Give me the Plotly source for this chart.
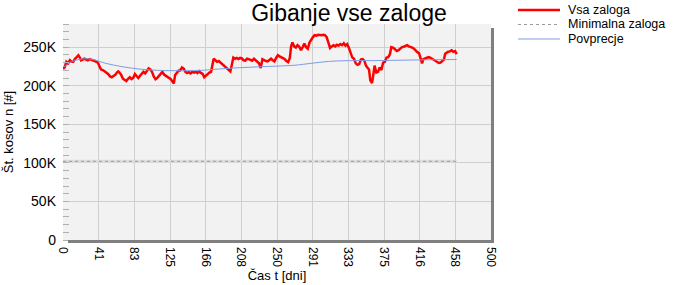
import plotly.graph_objects as go

# ---- data (values in thousands of pieces) ----
days = [0, 2, 4, 6, 8, 10, 12, 14, 16, 18, 20, 21, 23, 25, 27, 29, 31, 33, 35, 37, 39, 41, 43, 44.5, 47, 49,
        51, 53, 55, 57, 59, 61, 63, 64.5, 66, 68, 70, 72, 74, 76, 78, 80, 82, 84, 86, 88, 90, 92, 94, 96, 98,
        100, 102, 104, 106, 108, 110, 112, 114, 116, 118, 120, 122, 124, 126, 128, 129.5, 131, 133, 135, 137,
        139, 141, 143, 145, 147, 149, 151, 153, 155, 157, 159, 161, 163, 165, 167, 169, 171, 173, 175, 176,
        178, 180, 182, 184, 186, 188, 190, 192, 194, 195.5, 197, 199, 201, 203, 205, 207, 209, 211, 213, 215,
        217, 219, 221, 223, 225, 227, 229, 231, 233, 235, 237, 239, 241, 243, 245, 247, 249, 251, 253, 255,
        257, 259, 261, 263, 265, 266.5, 268, 270, 272, 274, 276, 278, 280, 282, 284, 286, 288, 290, 292, 294,
        296, 298, 300, 302, 304, 306, 308, 310, 312, 314, 316, 318, 320, 322, 324, 326, 328, 330, 332, 334,
        336, 338, 340, 342, 344, 346, 348, 350, 352, 354, 356, 357.5, 359, 361, 362.5, 364, 366, 368, 370,
        372, 374, 376, 378, 380, 382, 383.5, 386, 388, 390, 392, 394, 396, 398, 400, 402, 404, 406, 408, 410,
        412, 414, 416, 418, 419.5, 421, 423, 425, 427, 429, 431, 433, 435, 437, 439, 441, 443, 445, 446.5,
        448, 450, 452, 454, 456, 458, 460]
vsa_zaloga = [222, 224, 231, 229, 233, 231, 231, 235, 237, 239.5, 236, 233, 234, 235, 234, 233, 234.5, 234, 232.5,
              232, 231, 229.5, 224, 221, 220, 218.5, 217, 215, 212, 211, 212.5, 214, 217, 218.5, 217, 214, 209,
              207.5, 206, 209, 211, 208.5, 210, 215, 212, 210, 213, 216, 218, 216, 219, 222.5, 221, 218, 212,
              208.5, 210, 213, 216, 218, 214.5, 213.5, 211.5, 210, 208.5, 205, 203, 214, 217, 219.5, 220, 223.5,
              222, 218, 216.5, 217.5, 216, 218, 217, 218, 216.5, 219, 216.5, 215.5, 211, 213, 216, 217, 218, 227,
              235, 233, 231, 232, 230, 229, 227, 224, 223, 221, 218.5, 226, 236.5, 235, 236, 234.5, 236, 235.5,
              233, 232.5, 235, 234.5, 233, 232.5, 235, 233.5, 231, 229, 223, 234.5, 233, 232, 231.5, 233.5, 235,
              233, 231.5, 236, 239.5, 238, 237, 235.5, 234.5, 232, 230.5, 236, 251, 256, 251, 249.5, 252.5, 250.5,
              246, 250, 254.5, 250, 248, 256, 260, 263, 265.5, 265, 266, 265.5, 265.5, 266, 265.5, 263, 257, 249,
              251, 252.5, 251, 253, 252, 254, 252.5, 255, 252, 254, 249, 241, 236.5, 235, 229, 227, 228, 234,
              234.5, 232.5, 226, 223, 221, 207, 203.5, 214, 226, 217, 218, 223.5, 220.5, 230, 231, 236.5, 237,
              241, 250, 249, 246.5, 245, 246, 248, 250, 250.5, 251.5, 252.5, 251, 250.5, 249.5, 248, 245.5, 243.5,
              242, 236, 229, 234.5, 235, 236.5, 237, 236.5, 235, 234, 232, 230.5, 229.5, 230, 232, 234, 241.5,
              243, 244, 244.5, 246, 244, 245, 241]

avg_days = [1, 8, 15, 25, 35, 50, 70, 90, 110, 130, 160, 180, 200, 240, 270, 290, 310, 335, 360, 390, 420, 460]
povprecje = [224, 230, 233, 235, 234, 229, 224.5, 221.5, 220, 219.5, 219.8, 221.5, 223, 225, 226.5, 229, 231.5,
             232.5, 232.5, 233, 233.5, 234]

min_days = [0, 460]
min_zaloga = [102, 102]

x_tickvals = [0, 41.667, 83.333, 125, 166.667, 208.333, 250, 291.667, 333.333, 375, 416.667, 458.333, 500]
x_ticktext = ["0", "41", "83", "125", "166", "208", "250", "291", "333", "375", "416", "458", "500"]
y_tickvals = [0, 50, 100, 150, 200, 250]
y_ticktext = ["0", "50K", "100K", "150K", "200K", "250K"]

legend_names = ["Vsa zaloga", "Minimalna zaloga", "Povprecje"]

FONT = "Liberation Sans, Arial, sans-serif"
RED = "#ff0000"
GRAYDOT = "#9a9a9a"
BLUE = "#7f9be6"

fig = go.Figure()
fig.add_trace(go.Scatter(x=days, y=vsa_zaloga, mode="lines", name=legend_names[0],
                         line=dict(color=RED, width=2.5)))
fig.add_trace(go.Scatter(x=min_days, y=min_zaloga, mode="lines", hoverinfo="skip",
                         line=dict(color="#dcdcdc", width=3)))
fig.add_trace(go.Scatter(x=min_days, y=min_zaloga, mode="lines", name=legend_names[1],
                         line=dict(color=GRAYDOT, width=1, dash="dot")))
fig.add_trace(go.Scatter(x=avg_days, y=povprecje, mode="lines", name=legend_names[2],
                         line=dict(color=BLUE, width=1), line_shape="spline"))

W, H = 683, 285
L, R, T, B = 63, 192, 24, 45
pw = W - L - R
ph = H - T - B

def px_x(p):
    return (p - L) / pw

def px_y(p):
    return (H - B - p) / ph

shapes = [
    dict(type="rect", xref="paper", yref="paper", x0=1.0, x1=1.0 + 3 / pw, y0=-3 / ph, y1=1 - 4 / ph,
         fillcolor="#808080", line=dict(width=0), layer="above"),
    dict(type="rect", xref="paper", yref="paper", x0=5 / pw, x1=1.0 + 3 / pw, y0=-3 / ph, y1=0,
         fillcolor="#808080", line=dict(width=0), layer="above"),
]
annotations = []
legend_styles = [dict(color=RED, width=2.5), dict(color=GRAYDOT, width=1, dash="dot"), dict(color=BLUE, width=1)]
legend_y = [10, 24.5, 39]
for name, st, yy in zip(legend_names, legend_styles, legend_y):
    shapes.append(dict(type="line", xref="paper", yref="paper", x0=px_x(518), x1=px_x(560),
                       y0=px_y(yy), y1=px_y(yy), line=st))
    annotations.append(dict(text=name, xref="paper", yref="paper", x=px_x(567), y=px_y(yy),
                            xanchor="left", yanchor="middle", showarrow=False, borderpad=0,
                            font=dict(size=12.5, family=FONT, color="black")))

fig.update_layout(
    width=W, height=H,
    margin=dict(l=L, r=R, t=T, b=B, autoexpand=False),
    paper_bgcolor="white", plot_bgcolor="#f2f2f2",
    font=dict(family=FONT, color="black", size=12),
    title=dict(text="Gibanje vse zaloge", x=349 / W, xanchor="center", y=1 - 13 / H, yanchor="middle",
               font=dict(size=23, family=FONT, color="black")),
    showlegend=False,
    shapes=shapes,
    annotations=annotations,
)
fig.update_xaxes(range=[0, 500], tickvals=x_tickvals, ticktext=x_ticktext, tickangle=90,
                 showgrid=True, gridcolor="#cfcfcf", gridwidth=1, zeroline=False, showline=False,
                 ticks="", ticklabelstandoff=6, tickfont=dict(size=12, family=FONT), automargin=False,
                 title=dict(text="Čas t [dni]", font=dict(size=13, family=FONT), standoff=4))
fig.update_yaxes(range=[0, 280], tickvals=y_tickvals, ticktext=y_ticktext,
                 showgrid=True, gridcolor="#cfcfcf", gridwidth=1, zeroline=False, showline=False,
                 ticks="", ticklabelstandoff=6, tickfont=dict(size=14, family=FONT), automargin=False,
                 minor=dict(dtick=10, ticks="inside", ticklen=6, tickcolor="#b0b0b0", showgrid=False),
                 title=dict(text="Št. kosov n [#]", font=dict(size=13, family=FONT), standoff=6))

fig.write_html("out.html")
